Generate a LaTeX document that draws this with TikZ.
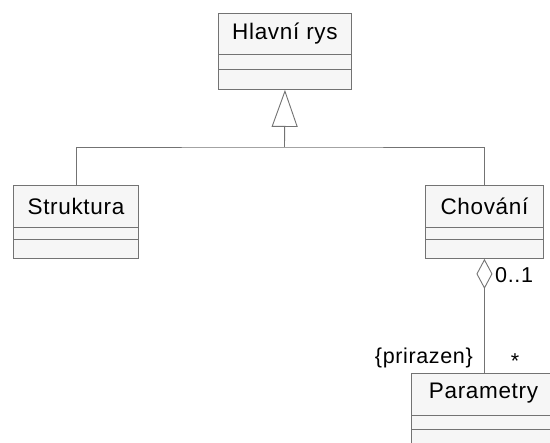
\documentclass[tikz,border=0pt]{standalone}
\usepackage{fontspec}
\setmainfont[LetterSpace=3]{Liberation Sans}
\usetikzlibrary{arrows.meta,calc}
\definecolor{umlline}{gray}{0.45}
\definecolor{umlfill}{gray}{0.965}
\tikzset{
  classbox/.style={draw=umlline, fill=umlfill, line width=0.9pt, inner sep=0pt, anchor=north west},
  divider/.style={draw=umlline, line width=0.9pt},
  classname/.style={inner sep=0pt, font=\fontsize{22.5}{26}\selectfont},
  lbl/.style={inner sep=0pt, font=\fontsize{21.5}{25}\selectfont},
  conn/.style={draw=umlline, line width=0.9pt},
}
\begin{document}
\begin{tikzpicture}[x=1pt,y=-1pt]
\useasboundingbox (0,0) rectangle (550,443);
\clip (0,0) rectangle (550,443);
\fill[white] (0,0) rectangle (550,443);

% Hlavni rys
\node[classbox, minimum width=133, minimum height=76] (hr) at (218,13) {};
\node[classname] (hrt) at ($(hr.north)+(0,20.5)$) {Hlavní rys};
\draw[divider] ($(hr.north west)+(0,41)$) -- ($(hr.north east)+(0,41)$);
\draw[divider] ($(hr.north west)+(0,56)$) -- ($(hr.north east)+(0,56)$);

% Struktura
\node[classbox, minimum width=125, minimum height=73] (st) at (13,185) {};
\node[classname] (stt) at ($(st.north)+(0,21)$) {Struktura};
\draw[divider] ($(st.north west)+(0,42)$) -- ($(st.north east)+(0,42)$);
\draw[divider] ($(st.north west)+(0,54)$) -- ($(st.north east)+(0,54)$);

% Chovani
\node[classbox, minimum width=118, minimum height=73] (ch) at (425,185) {};
\node[classname] (cht) at ($(ch.north)+(0,21)$) {Chování};
\draw[divider] ($(ch.north west)+(0,42)$) -- ($(ch.north east)+(0,42)$);
\draw[divider] ($(ch.north west)+(0,54)$) -- ($(ch.north east)+(0,54)$);

% Parametry
\node[classbox, minimum width=150, minimum height=90] (pa) at (411,373) {};
\node[classname] (pat) at (483.5,393.5) {Parametry};
\draw[divider] ($(pa.north west)+(0,42)$) -- ($(pa.north east)+(0,42)$);
\draw[divider] ($(pa.north west)+(0,56)$) -- ($(pa.north east)+(0,56)$);

% generalization
\coordinate (j) at (284.5,147);
\draw[conn] (st.north) |- (j) -| (ch.north);
\draw[conn, -{Triangle[open, length=37pt, width=26pt, fill=white]}] (j) -- (hr.south);

% aggregation
\coordinate (pt) at (ch.south |- pa.north);
\draw[conn, {Diamond[open, length=30pt, width=16pt, fill=white]}-] (ch.south) -- (pt);
\node[lbl, anchor=west] (m1) at (495,275) {0..1};
\node[lbl, anchor=east] (role) at (473,358) {\{prirazen\}};
\node[lbl] (m2) at (515,361) {*};
\end{tikzpicture}
\end{document}
